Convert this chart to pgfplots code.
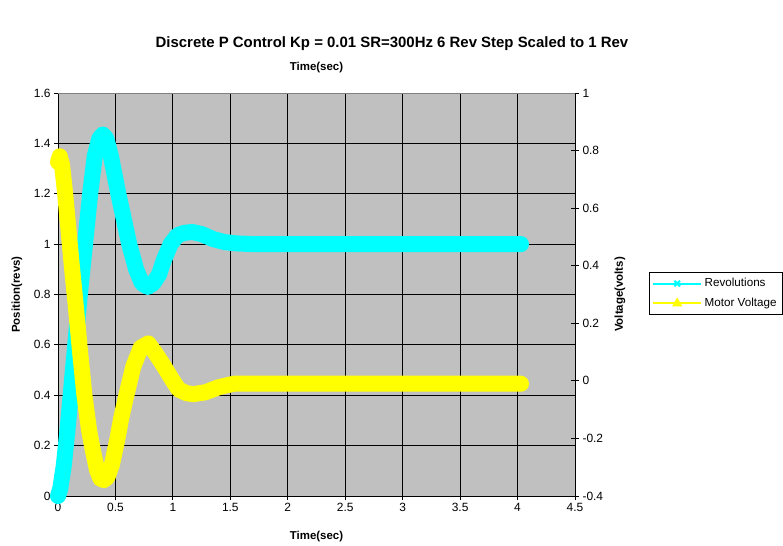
\documentclass[border=0pt]{standalone}
\usepackage{fontspec}
\setmainfont{Liberation Sans}
\usepackage{pgfplots}
\pgfplotsset{compat=1.18}
\definecolor{plotbg}{RGB}{192,192,192}
\definecolor{revcol}{RGB}{0,255,255}
\definecolor{voltcol}{RGB}{255,255,0}
\definecolor{framegray}{RGB}{128,128,128}
\begin{document}
\begin{tikzpicture}
\useasboundingbox (0,0) rectangle (783bp,546bp);
\pgfplotsset{
  base/.style={
    scale only axis, width=517bp, height=403bp,
    at={(58bp,50bp)}, anchor=south west,
    xmin=0, xmax=4.5,
    /pgf/number format/assume math mode=true,
    tick label style={font=\fontsize{12}{14}\selectfont, text=black},
    label style={font=\bfseries\fontsize{11.5}{13}\selectfont},
    clip=false,
  }
}
\begin{axis}[base,
  ymin=0, ymax=1.6,
  axis x line*=bottom, axis y line*=left,
  axis line style={black, line width=0.8bp},
  axis background/.style={fill=plotbg},
  xtick={0,0.5,1,1.5,2,2.5,3,3.5,4,4.5},
  ytick={0,0.2,0.4,0.6,0.8,1,1.2,1.4,1.6},
  grid=major, major grid style={black, line width=0.8bp},
  tick align=outside, major tick length=4bp,
  tick style={black, line width=0.8bp},
  xlabel={Time(sec)},
  xlabel style={at={(axis description cs:0.5,-0.1017)}, anchor=center},
  ylabel={Position(revs)},
  ylabel style={at={(axis description cs:-0.0793,0.5)}, anchor=center},
  title={Discrete P Control Kp = 0.01 SR=300Hz 6 Rev Step Scaled to 1 Rev},
  title style={at={(axis description cs:0.646,1.108)}, anchor=center, font=\bfseries\fontsize{15}{17}\selectfont},
]
\addplot[revcol, line width=16bp, line join=round, line cap=round] coordinates {
(0,0) (0.02,0.03) (0.05,0.12) (0.08,0.25) (0.11,0.40) (0.15,0.60) (0.19,0.80)
(0.235,1.0) (0.28,1.2) (0.32,1.35) (0.36,1.42) (0.39,1.435) (0.42,1.42)
(0.46,1.35) (0.525,1.2) (0.62,1.0) (0.68,0.90) (0.73,0.845) (0.78,0.83)
(0.83,0.845) (0.88,0.88) (0.92,0.935) (0.98,1.0) (1.04,1.035) (1.1,1.045)
(1.17,1.048) (1.25,1.04) (1.35,1.02) (1.45,1.008) (1.55,1.003) (1.7,1.0)
(2.0,1.0) (2.5,1.0) (3.0,1.0) (3.5,1.0) (4.03,1.0)
};
\end{axis}
\begin{axis}[base,
  ymin=-0.4, ymax=1,
  axis y line*=right, axis x line*=top,
  x axis line style={framegray, line width=0.8bp},
  y axis line style={black, line width=0.8bp},
  xtick=\empty,
  ytick={-0.4,-0.2,0,0.2,0.4,0.6,0.8,1},
  tick align=center, major tick length=8bp,
  tick style={black, line width=0.8bp},
  ylabel={Voltage(volts)},
  ylabel style={at={(axis description cs:1.087,0.5)}, anchor=center},
  xlabel={Time(sec)},
  xlabel style={at={(axis description cs:0.5,1.062)}, anchor=center},
  legend cell align=left,
  legend style={at={(axis description cs:1.1431,0.5025)}, anchor=west,
    draw=black, fill=white, font=\fontsize{11.7}{13}\selectfont,
    nodes={inner sep=2.5bp}, row sep=5bp, inner xsep=3bp, inner ysep=3.5bp},
  legend image code/.code={\draw[mark repeat=2,mark phase=2,#1] plot coordinates {(0bp,0bp) (24bp,0bp) (48bp,0bp)};},
]
\addlegendimage{revcol, line width=2bp, mark=x, mark size=4bp, mark options={line width=2bp}}
\addlegendentry{Revolutions}
\addplot[voltcol, line width=16bp, line join=round, line cap=round, forget plot] coordinates {
(0,0.76) (0.015,0.78) (0.035,0.75) (0.06,0.66) (0.09,0.53) (0.12,0.40)
(0.15,0.28) (0.19,0.11) (0.23,-0.05) (0.27,-0.17) (0.30,-0.235) (0.34,-0.31)
(0.37,-0.34) (0.40,-0.345) (0.43,-0.335) (0.47,-0.29) (0.518,-0.20)
(0.55,-0.13) (0.595,-0.05) (0.655,0.049) (0.72,0.115) (0.786,0.13)
(0.85,0.095) (0.925,0.049) (1.0,0.0) (1.05,-0.03) (1.12,-0.043) (1.18,-0.046)
(1.28,-0.04) (1.4,-0.022) (1.53,-0.01) (2.0,-0.01) (2.5,-0.01) (3.0,-0.01)
(3.5,-0.01) (4.03,-0.01)
};
\addlegendimage{voltcol, line width=2bp, mark=triangle*, mark size=4bp}
\addlegendentry{Motor Voltage}
\end{axis}
\end{tikzpicture}
\end{document}
